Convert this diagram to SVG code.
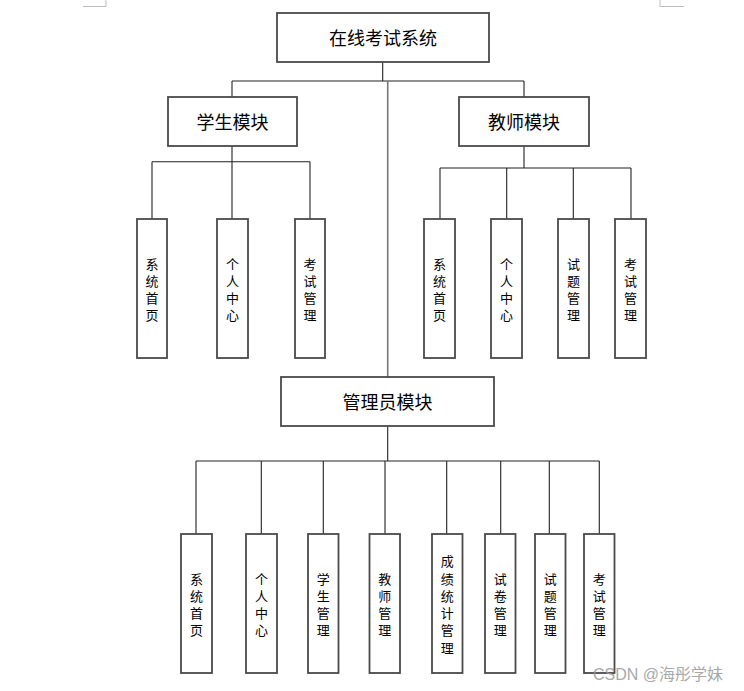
<svg xmlns="http://www.w3.org/2000/svg" width="744" height="691" viewBox="0 0 744 691">
<style>
.box{fill:#fff;stroke:#4a4a4a;stroke-width:1.8}
.ln{fill:none;stroke:#222;stroke-width:1.1}
.lg{fill:none;stroke:#777;stroke-width:1.6}
.big{font-family:"Noto Sans CJK SC","Noto Sans",sans-serif;font-size:18px;fill:#000;text-anchor:middle;dominant-baseline:central}
.sm{font-family:"Noto Sans CJK SC","Noto Sans",sans-serif;font-size:13px;fill:#000;text-anchor:middle;dominant-baseline:central}
.wm{font-family:"Liberation Sans","Noto Sans CJK SC",sans-serif;font-size:16px;fill:#999;opacity:0.85}
.mark{fill:none;stroke:#bbb;stroke-width:1}
</style>
<rect width="744" height="691" fill="#fff"/>
<path class="mark" d="M83 6.5H106V0M660 0V6.5H684"/>
<g id="connectors">
<path class="ln" d="M382.7 62V81M232 81H524M232 81V97M524 81V97"/>
<path class="lg" d="M387.7 81V377"/>
<path class="ln" d="M232 146V161.7M152 161.7H310M152 161.7V219M232 161.7V219M310 161.7V219"/>
<path class="ln" d="M524 146V168M440 168H631M440 168V219M506.7 168V219M573.3 168V219M631 168V219"/>
<path class="ln" d="M387.7 426V461M196 461H599.3M196 461V534M261.3 461V534M323.3 461V534M385 461V534M446.7 461V534M500.7 461V534M549.3 461V534M599.3 461V534"/>
</g>
<g id="root"><rect class="box" x="277" y="13" width="212" height="49"/><text class="big" x="383" y="37">在线考试系统</text></g>
<g id="student"><rect class="box" x="168" y="97" width="129" height="49"/><text class="big" x="232.5" y="121">学生模块</text></g>
<g id="teacher"><rect class="box" x="459" y="97" width="130" height="49"/><text class="big" x="524" y="121">教师模块</text></g>
<g id="admin"><rect class="box" x="281" y="377" width="213" height="49"/><text class="big" x="387.5" y="401">管理员模块</text></g>

<g id="s1"><rect class="box" x="137" y="219" width="30" height="139"/><text class="sm"><tspan x="152" y="262.5">系</tspan><tspan x="152" y="279.8">统</tspan><tspan x="152" y="297.1">首</tspan><tspan x="152" y="314.4">页</tspan></text></g>
<g id="s2"><rect class="box" x="217" y="219" width="31" height="139"/><text class="sm"><tspan x="232.5" y="262.5">个</tspan><tspan x="232.5" y="279.8">人</tspan><tspan x="232.5" y="297.1">中</tspan><tspan x="232.5" y="314.4">心</tspan></text></g>
<g id="s3"><rect class="box" x="295" y="219" width="30" height="139"/><text class="sm"><tspan x="310" y="262.5">考</tspan><tspan x="310" y="279.8">试</tspan><tspan x="310" y="297.1">管</tspan><tspan x="310" y="314.4">理</tspan></text></g>

<g id="t1"><rect class="box" x="424" y="219" width="31" height="139"/><text class="sm"><tspan x="439.5" y="262.5">系</tspan><tspan x="439.5" y="279.8">统</tspan><tspan x="439.5" y="297.1">首</tspan><tspan x="439.5" y="314.4">页</tspan></text></g>
<g id="t2"><rect class="box" x="491" y="219" width="31" height="139"/><text class="sm"><tspan x="506.5" y="262.5">个</tspan><tspan x="506.5" y="279.8">人</tspan><tspan x="506.5" y="297.1">中</tspan><tspan x="506.5" y="314.4">心</tspan></text></g>
<g id="t3"><rect class="box" x="558" y="219" width="31" height="139"/><text class="sm"><tspan x="573.5" y="262.5">试</tspan><tspan x="573.5" y="279.8">题</tspan><tspan x="573.5" y="297.1">管</tspan><tspan x="573.5" y="314.4">理</tspan></text></g>
<g id="t4"><rect class="box" x="615" y="219" width="31" height="139"/><text class="sm"><tspan x="630.5" y="262.5">考</tspan><tspan x="630.5" y="279.8">试</tspan><tspan x="630.5" y="297.1">管</tspan><tspan x="630.5" y="314.4">理</tspan></text></g>

<g id="a1"><rect class="box" x="181" y="534" width="31" height="139"/><text class="sm"><tspan x="196.5" y="577.5">系</tspan><tspan x="196.5" y="594.8">统</tspan><tspan x="196.5" y="612.1">首</tspan><tspan x="196.5" y="629.4">页</tspan></text></g>
<g id="a2"><rect class="box" x="246" y="534" width="31" height="139"/><text class="sm"><tspan x="261.5" y="577.5">个</tspan><tspan x="261.5" y="594.8">人</tspan><tspan x="261.5" y="612.1">中</tspan><tspan x="261.5" y="629.4">心</tspan></text></g>
<g id="a3"><rect class="box" x="308" y="534" width="30.5" height="139"/><text class="sm"><tspan x="323.2" y="577.5">学</tspan><tspan x="323.2" y="594.8">生</tspan><tspan x="323.2" y="612.1">管</tspan><tspan x="323.2" y="629.4">理</tspan></text></g>
<g id="a4"><rect class="box" x="369.5" y="534" width="30.5" height="139"/><text class="sm"><tspan x="384.8" y="577.5">教</tspan><tspan x="384.8" y="594.8">师</tspan><tspan x="384.8" y="612.1">管</tspan><tspan x="384.8" y="629.4">理</tspan></text></g>
<g id="a5"><rect class="box" x="432" y="534" width="30.5" height="139"/><text class="sm"><tspan x="447.2" y="560.2">成</tspan><tspan x="447.2" y="577.5">绩</tspan><tspan x="447.2" y="594.8">统</tspan><tspan x="447.2" y="612.1">计</tspan><tspan x="447.2" y="629.4">管</tspan><tspan x="447.2" y="646.7">理</tspan></text></g>
<g id="a6"><rect class="box" x="485" y="534" width="30.5" height="139"/><text class="sm"><tspan x="500.2" y="577.5">试</tspan><tspan x="500.2" y="594.8">卷</tspan><tspan x="500.2" y="612.1">管</tspan><tspan x="500.2" y="629.4">理</tspan></text></g>
<g id="a7"><rect class="box" x="535" y="534" width="30.5" height="139"/><text class="sm"><tspan x="550.2" y="577.5">试</tspan><tspan x="550.2" y="594.8">题</tspan><tspan x="550.2" y="612.1">管</tspan><tspan x="550.2" y="629.4">理</tspan></text></g>
<g id="a8"><rect class="box" x="584" y="534" width="30.5" height="139"/><text class="sm"><tspan x="599.2" y="577.5">考</tspan><tspan x="599.2" y="594.8">试</tspan><tspan x="599.2" y="612.1">管</tspan><tspan x="599.2" y="629.4">理</tspan></text></g>

<text class="wm" x="593" y="680">CSDN @海彤学妹</text>
</svg>
